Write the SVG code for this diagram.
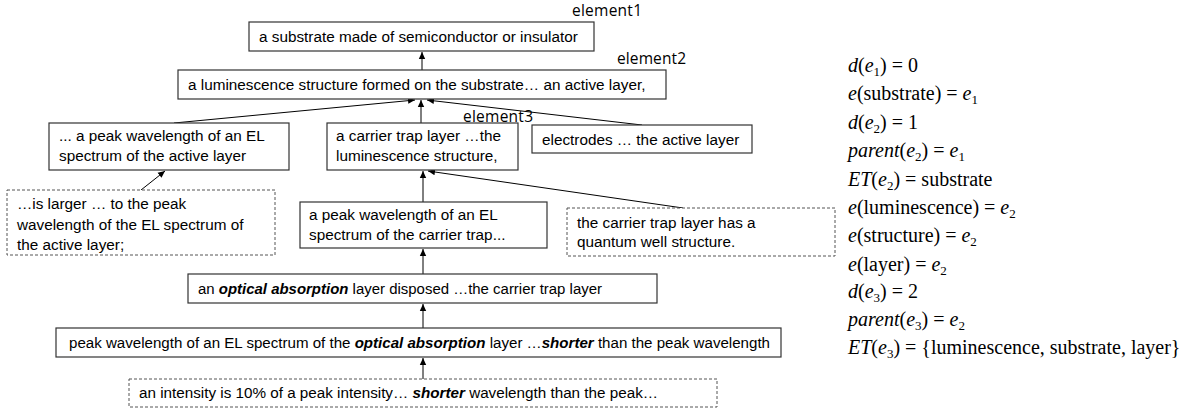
<svg xmlns="http://www.w3.org/2000/svg" width="1196" height="412" viewBox="0 0 1196 412">
<defs>
<marker id="ah" markerWidth="8" markerHeight="8" refX="7" refY="4" orient="auto" markerUnits="userSpaceOnUse">
<path d="M0,0.8 L7,4 L0,7.2 Z" fill="#000"/>
</marker>
<style>
.box{fill:#fff;stroke:#333;stroke-width:1.2}
.dbox{fill:#fff;stroke:#555;stroke-width:1;stroke-dasharray:3,2}
.t{font-family:"Liberation Sans",Arial,sans-serif;font-size:15.3px;fill:#000}
.bi{font-weight:bold;font-style:italic}
.el{font-family:"Open Sans","DejaVu Sans",sans-serif;font-size:15.5px;fill:#000}
.m{font-family:"Liberation Serif","Times New Roman",serif;font-size:20px;fill:#000}
.i{font-style:italic}
.s{font-size:13px}
.conn line{stroke:#000;stroke-width:1;marker-end:url(#ah)}
</style>
</defs>
<rect width="1196" height="412" fill="#fff"/>

<g class="conn">
<line x1="422" y1="70" x2="422" y2="52"/>
<line x1="174" y1="123" x2="415" y2="100"/>
<line x1="421" y1="123" x2="421" y2="100"/>
<line x1="642" y1="125" x2="427" y2="100"/>
<line x1="141" y1="190" x2="165" y2="171"/>
<line x1="423" y1="202" x2="423" y2="171"/>
<line x1="683" y1="208" x2="428" y2="171"/>
<line x1="423" y1="274" x2="423" y2="249"/>
<line x1="423" y1="328" x2="423" y2="304"/>
<line x1="423" y1="379" x2="423" y2="358"/>
</g>

<g id="element1">
<rect class="box" x="249" y="22" width="345" height="29"/>
<text class="t" x="259" y="42">a substrate made of semiconductor or insulator</text>
<text class="el" x="572" y="16" textLength="70">element1</text>
</g>

<g id="element2">
<rect class="box" x="178" y="70" width="488" height="29"/>
<text class="t" x="188" y="90">a luminescence structure formed on the substrate… an active layer,</text>
<text class="el" x="617" y="64" textLength="69">element2</text>
</g>

<g id="peak-active">
<rect class="box" x="49" y="123" width="240" height="47"/>
<text class="t" x="59" y="141">... a peak wavelength of an EL</text>
<text class="t" x="59" y="161">spectrum of the active layer</text>
</g>

<g id="element3">
<rect class="box" x="327" y="123" width="191" height="47"/>
<text class="t" x="336" y="141">a carrier trap layer …the</text>
<text class="t" x="336" y="161">luminescence structure,</text>
<text class="el" x="463" y="122" textLength="70">element3</text>
</g>

<g id="electrodes">
<rect class="box" x="532" y="125" width="220" height="28"/>
<text class="t" x="542" y="145">electrodes … the active layer</text>
</g>

<g id="larger">
<rect class="dbox" x="7" y="190" width="268" height="65"/>
<text class="t" x="17" y="209">…is larger … to the peak</text>
<text class="t" x="17" y="230">wavelength of the EL spectrum of</text>
<text class="t" x="17" y="250">the active layer;</text>
</g>

<g id="peak-trap">
<rect class="box" x="300" y="202" width="247" height="46"/>
<text class="t" x="309" y="220">a peak wavelength of an EL</text>
<text class="t" x="309" y="240">spectrum of the carrier trap...</text>
</g>

<g id="quantum">
<rect class="dbox" x="567" y="208" width="268" height="48"/>
<text class="t" x="577" y="228">the carrier trap layer has a</text>
<text class="t" x="577" y="247">quantum well structure.</text>
</g>

<g id="absorption">
<rect class="box" x="188" y="274" width="469" height="29"/>
<text class="t" x="198" y="294" textLength="404" lengthAdjust="spacingAndGlyphs">an <tspan class="bi">optical absorption</tspan> layer disposed …the carrier trap layer</text>
</g>

<g id="peak-absorption">
<rect class="box" x="56" y="328" width="725" height="29"/>
<text class="t" x="69" y="348" textLength="701" lengthAdjust="spacingAndGlyphs">peak wavelength of an EL spectrum of the <tspan class="bi">optical absorption</tspan> layer …<tspan class="bi">shorter</tspan> than the peak wavelength</text>
</g>

<g id="intensity">
<rect class="dbox" x="129" y="379" width="588" height="28"/>
<text class="t" x="139" y="398" textLength="519" lengthAdjust="spacingAndGlyphs">an intensity is 10% of a peak intensity… <tspan class="bi">shorter</tspan> wavelength than the peak…</text>
</g>

<g id="formulas">
<text class="m" x="848" y="72"><tspan class="i">d</tspan>(<tspan class="i">e</tspan><tspan class="s" dy="4">1</tspan><tspan dy="-4">) = 0</tspan></text>
<text class="m" x="848" y="100"><tspan class="i">e</tspan>(substrate) = <tspan class="i">e</tspan><tspan class="s" dy="4">1</tspan></text>
<text class="m" x="848" y="129"><tspan class="i">d</tspan>(<tspan class="i">e</tspan><tspan class="s" dy="4">2</tspan><tspan dy="-4">) = 1</tspan></text>
<text class="m" x="848" y="157"><tspan class="i">parent</tspan>(<tspan class="i">e</tspan><tspan class="s" dy="4">2</tspan><tspan dy="-4">) = </tspan><tspan class="i">e</tspan><tspan class="s" dy="4">1</tspan></text>
<text class="m" x="848" y="186"><tspan class="i">ET</tspan>(<tspan class="i">e</tspan><tspan class="s" dy="4">2</tspan><tspan dy="-4">) = substrate</tspan></text>
<text class="m" x="848" y="214"><tspan class="i">e</tspan>(luminescence) = <tspan class="i">e</tspan><tspan class="s" dy="4">2</tspan></text>
<text class="m" x="848" y="242"><tspan class="i">e</tspan>(structure) = <tspan class="i">e</tspan><tspan class="s" dy="4">2</tspan></text>
<text class="m" x="848" y="271"><tspan class="i">e</tspan>(layer) = <tspan class="i">e</tspan><tspan class="s" dy="4">2</tspan></text>
<text class="m" x="848" y="298"><tspan class="i">d</tspan>(<tspan class="i">e</tspan><tspan class="s" dy="4">3</tspan><tspan dy="-4">) = 2</tspan></text>
<text class="m" x="848" y="326"><tspan class="i">parent</tspan>(<tspan class="i">e</tspan><tspan class="s" dy="4">3</tspan><tspan dy="-4">) = </tspan><tspan class="i">e</tspan><tspan class="s" dy="4">2</tspan></text>
<text class="m" x="848" y="354"><tspan class="i">ET</tspan>(<tspan class="i">e</tspan><tspan class="s" dy="4">3</tspan><tspan dy="-4">) = {luminescence, substrate, layer}</tspan></text>
</g>
</svg>
